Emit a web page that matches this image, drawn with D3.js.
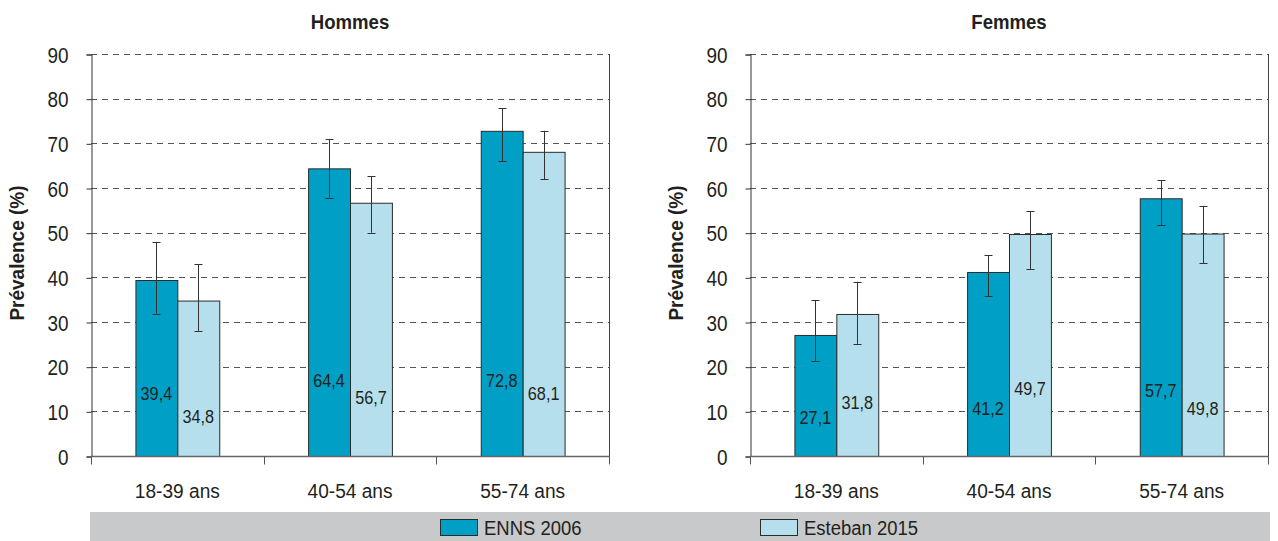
<!DOCTYPE html>
<html><head><meta charset="utf-8">
<script src="https://cdn.jsdelivr.net/npm/d3@7"></script>
<style>
body{margin:0;background:#fff;}
svg{display:block;font-family:"Liberation Sans",Arial,Helvetica,sans-serif;}
</style></head>
<body><svg id="c" width="1278" height="541"></svg>
<script>
const categories = ["18-39 ans", "40-54 ans", "55-74 ans"];
const series = ["ENNS 2006", "Esteban 2015"];
const panels = ["Hommes", "Femmes"];
const yTicks = [0, 10, 20, 30, 40, 50, 60, 70, 80, 90];
// bar values
const hommesENNS = [39.4, 64.4, 72.8];
const hommesEsteban = [34.8, 56.7, 68.1];
const femmesENNS = [27.1, 41.2, 57.7];
const femmesEsteban = [31.8, 49.7, 49.8];
// confidence intervals (low, high)
const hommesENNSci = [[31.9, 47.8], [57.8, 71.0], [66.0, 77.9]];
const hommesEstebanCi = [[28.0, 43.0], [50.0, 62.7], [62.0, 72.8]];
const femmesENNSci = [[21.3, 34.9], [35.8, 45.0], [51.7, 61.8]];
const femmesEstebanCi = [[25.1, 39.0], [41.9, 54.8], [43.2, 56.0]];
// height (in % units) at which each value label sits inside its bar
const hommesENNSlab = [13.9, 16.8, 16.8];
const hommesEstebanLab = [8.7, 13.0, 13.9];
const femmesENNSlab = [8.5, 10.5, 14.5];
const femmesEstebanLab = [11.9, 15.0, 10.5];

const colors = {"ENNS 2006": "#00a0c6", "Esteban 2015": "#b5dfec"};
const ink = "#231f20";

const panelData = [
  {title: panels[0], vals: [hommesENNS, hommesEsteban], ci: [hommesENNSci, hommesEstebanCi], lab: [hommesENNSlab, hommesEstebanLab], x0: 91, x1: 609},
  {title: panels[1], vals: [femmesENNS, femmesEsteban], ci: [femmesENNSci, femmesEstebanCi], lab: [femmesENNSlab, femmesEstebanLab], x0: 750, x1: 1268}
];

// horizontally condense text (emulates a condensed face)
function condense(sel, sx) {
  sel.each(function() {
    const t = d3.select(this);
    const x = +t.attr("x") || 0, y = +t.attr("y") || 0;
    const pre = t.attr("transform") || "";
    t.attr("x", null).attr("y", null)
     .attr("transform", `${pre} translate(${x},${y}) scale(${sx},1)`);
  });
}

const svg = d3.select("#c");
const y = d3.scaleLinear().domain([0, 90]).range([456, 54]);

panelData.forEach(p => {
  const g = svg.append("g");
  const x = d3.scaleBand().domain(categories).range([p.x0, p.x1]).paddingInner(0).paddingOuter(0);
  const xs = d3.scaleBand().domain(series).range([0, x.bandwidth()]).paddingInner(0).paddingOuter(1.06);

  // gridlines
  g.selectAll(".grid").data(yTicks.filter(t => t > 0)).join("line")
    .attr("x1", p.x0).attr("x2", p.x1)
    .attr("y1", d => Math.round(y(d)) + 0.5).attr("y2", d => Math.round(y(d)) + 0.5)
    .attr("stroke", "#555").attr("stroke-width", 1).attr("stroke-dasharray", "6,5");

  // right border
  g.append("line").attr("x1", p.x1 + 0.5).attr("x2", p.x1 + 0.5).attr("y1", y(90)).attr("y2", y(0))
    .attr("stroke", "#444").attr("stroke-width", 1);

  // y axis
  const ya = d3.axisLeft(y).tickValues(yTicks).tickSize(5).tickPadding(18).tickFormat(d3.format("d"));
  const yg = g.append("g").attr("transform", `translate(${p.x0 + 0.5},0.5)`).call(ya);
  yg.select(".domain").attr("stroke", "#333");
  yg.selectAll(".tick line").attr("stroke", "#333");
  yg.selectAll("text").attr("font-size", 21.5).attr("fill", ink).attr("font-family", "inherit").attr("dy", "0.36em");
  condense(yg.selectAll("text"), 0.88);

  // bars
  series.forEach((s, si) => {
    g.selectAll(".bar" + si).data(categories).join("rect")
      .attr("x", c => x(c) + xs(s) + 0.5)
      .attr("y", (c, i) => y(p.vals[si][i]) + 0.5)
      .attr("width", xs.bandwidth())
      .attr("height", (c, i) => y(0) - y(p.vals[si][i]))
      .attr("fill", colors[s]).attr("stroke", "#2b2b2b").attr("stroke-width", 1);
  });

  // x axis
  const xg = g.append("g").attr("transform", `translate(0,${y(0) + 0.5})`);
  xg.append("line").attr("x1", p.x0).attr("x2", p.x1 + 1).attr("y1", 0).attr("y2", 0).attr("stroke", "#666").attr("stroke-width", 1.5);
  const bounds = categories.map(c => x(c)).concat([x(categories[categories.length - 1]) + x.bandwidth()]);
  xg.selectAll(".xt").data(bounds).join("line")
    .attr("x1", d => Math.round(d) + 0.5).attr("x2", d => Math.round(d) + 0.5).attr("y1", 0).attr("y2", 8)
    .attr("stroke", "#555");
  const xl = xg.selectAll(".xl").data(categories).join("text")
    .attr("x", c => x(c) + x.bandwidth() / 2).attr("y", 41)
    .attr("text-anchor", "middle").attr("font-size", 21).attr("fill", ink).text(c => c);
  condense(xl, 0.91);

  // error bars
  series.forEach((s, si) => {
    const eb = g.selectAll(".eb" + si).data(categories).join("g");
    const cx = c => Math.round(x(c) + xs(s) + xs.bandwidth() / 2) + 0.5;
    eb.append("line").attr("x1", cx).attr("x2", cx)
      .attr("y1", (c, i) => y(p.ci[si][i][0])).attr("y2", (c, i) => y(p.ci[si][i][1]))
      .attr("stroke", "#333");
    [0, 1].forEach(k => {
      eb.append("line").attr("x1", c => cx(c) - 4).attr("x2", c => cx(c) + 4)
        .attr("y1", (c, i) => Math.round(y(p.ci[si][i][k])) + 0.5).attr("y2", (c, i) => Math.round(y(p.ci[si][i][k])) + 0.5)
        .attr("stroke", "#333");
    });
  });

  // value labels
  series.forEach((s, si) => {
    const vl = g.selectAll(".vl" + si).data(categories).join("text")
      .attr("x", c => x(c) + xs(s) + xs.bandwidth() / 2)
      .attr("y", (c, i) => y(p.lab[si][i]) + 6)
      .attr("text-anchor", "middle").attr("font-size", 17.5).attr("fill", ink)
      .text((c, i) => d3.format(".1f")(p.vals[si][i]).replace(".", ","));
    condense(vl, 0.93);
  });

  // title
  const tt = g.append("text").attr("x", (p.x0 + p.x1) / 2).attr("y", 29).attr("text-anchor", "middle")
    .attr("font-size", 20).attr("font-weight", "bold").attr("fill", ink).text(p.title);
  condense(tt, 0.93);

  // y title
  const yt = g.append("text").attr("transform", `translate(${p.x0 - 67},253) rotate(-90)`)
    .attr("text-anchor", "middle").attr("font-size", 20).attr("font-weight", "bold").attr("fill", ink)
    .text("Prévalence (%)");
  condense(yt, 0.95);
});

// legend
const lg = svg.append("g");
lg.append("rect").attr("x", 90).attr("y", 512).attr("width", 1180).attr("height", 29).attr("fill", "#c8c9cb");
const legX = d3.scaleOrdinal().domain(series).range([440, 760]);
series.forEach(s => {
  lg.append("rect").attr("x", legX(s) + 0.5).attr("y", 519.5).attr("width", 37).attr("height", 16)
    .attr("fill", colors[s]).attr("stroke", "#2b2b2b");
  const lt = lg.append("text").attr("x", legX(s) + 44).attr("y", 535).attr("font-size", 21).attr("fill", ink).text(s);
  condense(lt, 0.88);
});
</script></body></html>
